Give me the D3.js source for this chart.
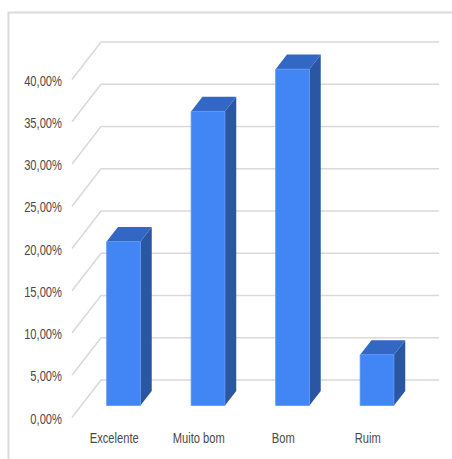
<!DOCTYPE html>
<html>
<head>
<meta charset="utf-8">
<script src="https://cdn.jsdelivr.net/npm/d3@7"></script>
<style>
  html, body { margin: 0; padding: 0; background: #fff; }
  svg { display: block; }
  text { font-family: "Liberation Sans", Arial, sans-serif; fill: #4a4a4a; }
</style>
</head>
<body>
<svg id="chart" width="452" height="459"></svg>
<script>
// Survey answers and their shares (%)
const categories = ["Excelente", "Muito bom", "Bom", "Ruim"];
const values = [19.4, 34.8, 39.8, 6.0];
const yTicks = [0, 5, 10, 15, 20, 25, 30, 35, 40];

const W = 452, H = 459;
const svg = d3.select("#chart");

// Oblique 3D projection: t = 0 is the front of the floor, t = 1 the back wall
const depth = { dx: 29, dy: -37.5 };
const barDepth = [0.32, 0.71];

const x = d3.scaleBand()
  .domain(categories)
  .range([72, 410])
  .paddingInner(0.6)
  .paddingOuter(0.3);

// value scale on the back wall
const y = d3.scaleLinear().domain([0, 40]).range([380, 42]);

const P = (xf, v, t) => [xf + t * depth.dx, y(v) - depth.dy + t * depth.dy];

const locale = d3.formatLocale({ decimal: ",", thousands: ".", grouping: [3], currency: ["", ""] });
const fmt = v => locale.format(".2f")(v) + "%";

// frame
svg.append("path")
  .attr("d", `M8.5,${H} V12.5 H${W}`)
  .attr("fill", "none")
  .attr("stroke", "#dadada")
  .attr("stroke-width", 2);

// gridlines: floor diagonal + back wall line
const grid = svg.append("g")
  .attr("fill", "none")
  .attr("stroke", "#d9d9d9")
  .attr("stroke-width", 1.5);

yTicks.forEach(v => {
  const a = P(72, v, 0), b = P(72, v, 1);
  grid.append("path")
    .attr("d", `M${a[0]},${a[1]} L${b[0]},${b[1]} H439`);
});

// y-axis labels
svg.append("g").selectAll("text")
  .data(yTicks)
  .join("text")
  .attr("transform", d => `translate(62,${P(72, d, 0)[1] + 6}) scale(0.72,1)`)
  .attr("text-anchor", "end")
  .attr("font-size", 15.5)
  .text(d => fmt(d));

// bars
const bars = svg.append("g");
categories.forEach((c, i) => {
  const v = values[i];
  const x0 = x(c), x1 = x(c) + x.bandwidth();
  const [t0, t1] = barDepth;
  const poly = pts => "M" + pts.map(p => p.join(",")).join("L") + "Z";
  const g = bars.append("g");
  g.append("path")
    .attr("d", poly([P(x1, 0, t0), P(x1, 0, t1), P(x1, v, t1), P(x1, v, t0)]))
    .attr("fill", "#2a56a2");
  g.append("path")
    .attr("d", poly([P(x0, v, t0), P(x1, v, t0), P(x1, v, t1), P(x0, v, t1)]))
    .attr("fill", "#3367c4");
  g.append("path")
    .attr("d", poly([P(x0, 0, t0), P(x1, 0, t0), P(x1, v, t0), P(x0, v, t0)]))
    .attr("fill", "#4285f4")
    .attr("stroke", "#5b97f6")
    .attr("stroke-width", 0.8);
});

// category labels
svg.append("g").selectAll("text")
  .data(categories)
  .join("text")
  .attr("transform", d => `translate(${x(d) + x.bandwidth() / 2},442.5) scale(0.72,1)`)
  .attr("text-anchor", "middle")
  .attr("font-size", 15.5)
  .text(d => d);
</script>
</body>
</html>
